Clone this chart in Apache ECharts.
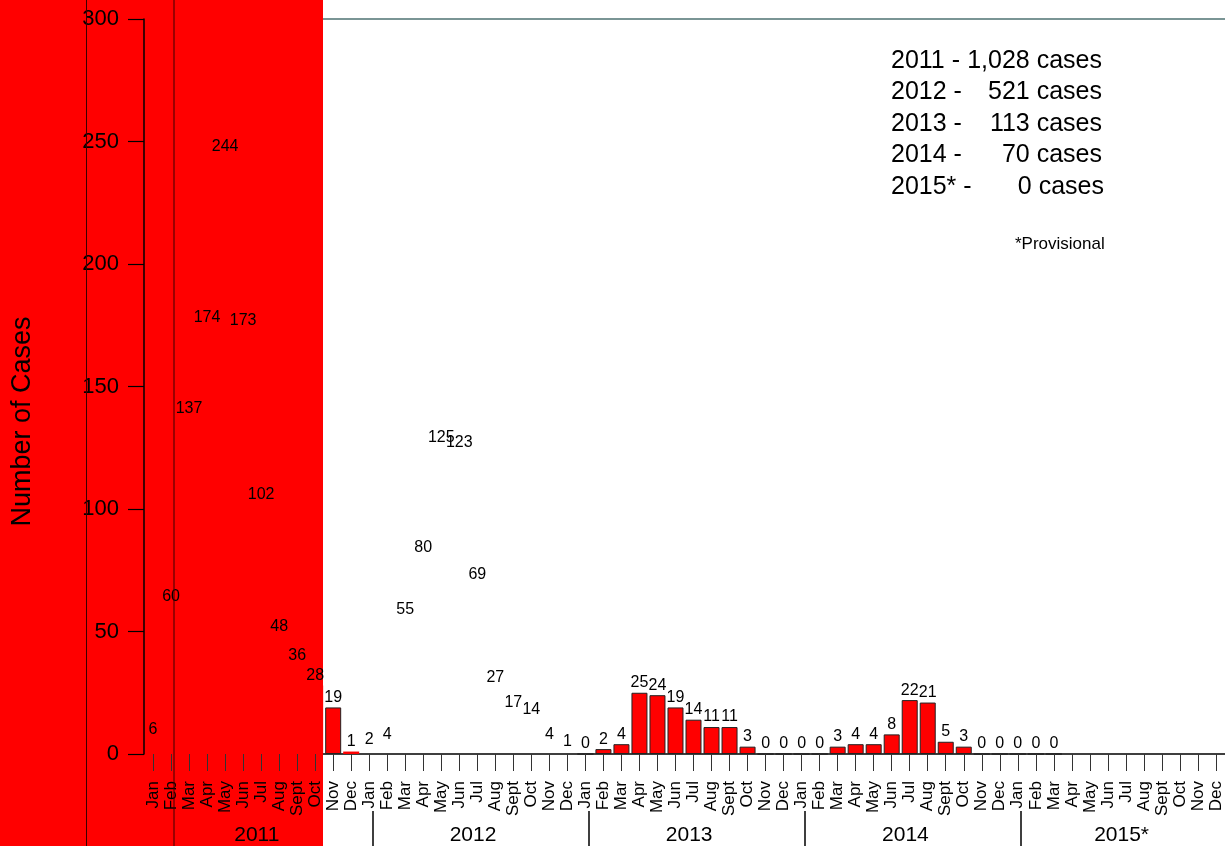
<!DOCTYPE html>
<html>
<head>
<meta charset="utf-8">
<script src="https://cdn.jsdelivr.net/npm/echarts@6/dist/echarts.min.js"></script>
<style>html,body{margin:0;padding:0;background:#fff}#c{width:1225px;height:846px}</style>
</head>
<body>
<div id="c"></div>
<script>
const months = ['Jan','Feb','Mar','Apr','May','Jun','Jul','Aug','Sept','Oct','Nov','Dec'];
const years = ['2011','2012','2013','2014','2015*'];
const cases2011 = [6,60,137,174,244,173,102,48,36,28,19,1];
const cases2012 = [2,4,55,80,125,123,69,27,17,14,4,1];
const cases2013 = [0,2,4,25,24,19,14,11,11,3,0,0];
const cases2014 = [0,0,3,4,4,8,22,21,5,3,0,0];
const cases2015 = [0,0,0,null,null,null,null,null,null,null,null,null];
const yMax = 300, yStep = 50;
const casesByYear = [cases2011, cases2012, cases2013, cases2014, cases2015];

const FONT = '"Liberation Sans", Arial, sans-serif';
const categories = [];
const barData = [];
casesByYear.forEach((arr, yi) => {
  arr.forEach((v, mi) => {
    categories.push(months[mi] + ' ' + years[yi]);
    let style;
    if (yi === 1) style = { color: 'rgba(0,0,0,0)', borderWidth: 0 };
    else if (yi === 0 && mi !== 10) style = { color: '#ff0000', borderWidth: 0 };
    else style = { color: '#ff0000', borderColor: '#222', borderWidth: 1 };
    barData.push({ value: v, itemStyle: style });
  });
});
const totals = casesByYear.map(a => a.reduce((s, v) => s + (v || 0), 0));

const chart = echarts.init(document.getElementById('c'));
const legendGraphics = [];
years.forEach((y, i) => {
  legendGraphics.push({ type: 'text', z: 10, x: 891, y: 61 + i * 31.5,
    style: { text: y + ' -', font: '25px ' + FONT, fill: '#000', textVerticalAlign: 'middle', textAlign: 'left' } });
  legendGraphics.push({ type: 'text', z: 10, x: i === years.length - 1 ? 1104 : 1102, y: 61 + i * 31.5,
    style: { text: totals[i].toLocaleString('en-US') + ' cases', font: '25px ' + FONT, fill: '#000', textVerticalAlign: 'middle', textAlign: 'right' } });
});

chart.setOption({
  animation: false,
  backgroundColor: '#fff',
  grid: { left: 144, right: -3, top: 19, bottom: 89, containLabel: false },
  xAxis: [
    { type: 'category', data: categories, position: 'bottom', z: 5,
      axisLine: { show: false },
      axisTick: { show: true, alignWithLabel: true, interval: 0, length: 17, lineStyle: { color: '#333', width: 1 } },
      axisLabel: { interval: 0, rotate: 90, margin: 27, fontSize: 17, fontFamily: FONT, color: '#000',
        formatter: v => v.split(' ')[0] },
      splitLine: { show: false } },
    { type: 'category', data: categories, position: 'bottom', z: 0,
      axisLine: { show: true, lineStyle: { color: '#000', width: 1.5 } },
      axisTick: { show: false }, axisLabel: { show: false }, splitLine: { show: false } },
    { type: 'value', min: -0.5, max: 59.5, position: 'bottom', offset: 57, z: 5,
      axisLine: { show: false, onZero: false },
      axisTick: { show: true, length: 40, customValues: years.slice(1).map((_, i) => (i + 1) * months.length + 0.17),
        lineStyle: { color: '#000', width: 1.5 } },
      axisLabel: { show: true, margin: 14, fontSize: 21, fontFamily: FONT, color: '#000',
        customValues: years.map((_, i) => i * months.length + 5.76),
        formatter: v => years[Math.round((v - 5.76) / months.length)] },
      splitLine: { show: false } },
    { type: 'category', data: categories, position: 'top', z: 0,
      axisLine: { show: true, lineStyle: { color: '#4f7373', width: 1.6 } },
      axisTick: { show: false }, axisLabel: { show: false }, splitLine: { show: false } }
  ],
  yAxis: { type: 'value', min: 0, max: yMax, interval: yStep, z: 5,
    axisLine: { show: true, onZero: false, lineStyle: { color: '#000', width: 1.5 } },
    axisTick: { show: true, length: 16, lineStyle: { color: '#000', width: 1.2 } },
    axisLabel: { margin: 25, fontSize: 22, fontFamily: FONT, color: '#000' },
    splitLine: { show: false } },
  series: [{
    type: 'bar', xAxisIndex: 0, data: barData, barWidth: 16, z: 2,
    label: { show: true, position: 'top', distance: 2, fontSize: 16, fontFamily: FONT, color: '#000' }
  }],
  graphic: [
    { type: 'rect', z: 1, shape: { x: 0, y: 0, width: 323, height: 846 }, style: { fill: '#ff0000' } },
    { type: 'line', z: 10, shape: { x1: 86.5, y1: 0, x2: 86.5, y2: 846 }, style: { stroke: '#3a0000', lineWidth: 1 } },
    { type: 'line', z: 10, shape: { x1: 174, y1: 0, x2: 174, y2: 846 }, style: { stroke: '#3a0000', lineWidth: 1 } },
    { type: 'text', z: 10, x: 23, y: 421.5, rotation: Math.PI / 2,
      style: { text: 'Number of Cases', font: '27px ' + FONT, fill: '#000', textAlign: 'center', textVerticalAlign: 'middle' } },
    ...legendGraphics,
    { type: 'text', z: 10, x: 1015, y: 244,
      style: { text: '*Provisional', font: '17px ' + FONT, fill: '#000', textAlign: 'left', textVerticalAlign: 'middle' } }
  ]
});
</script>
</body>
</html>
